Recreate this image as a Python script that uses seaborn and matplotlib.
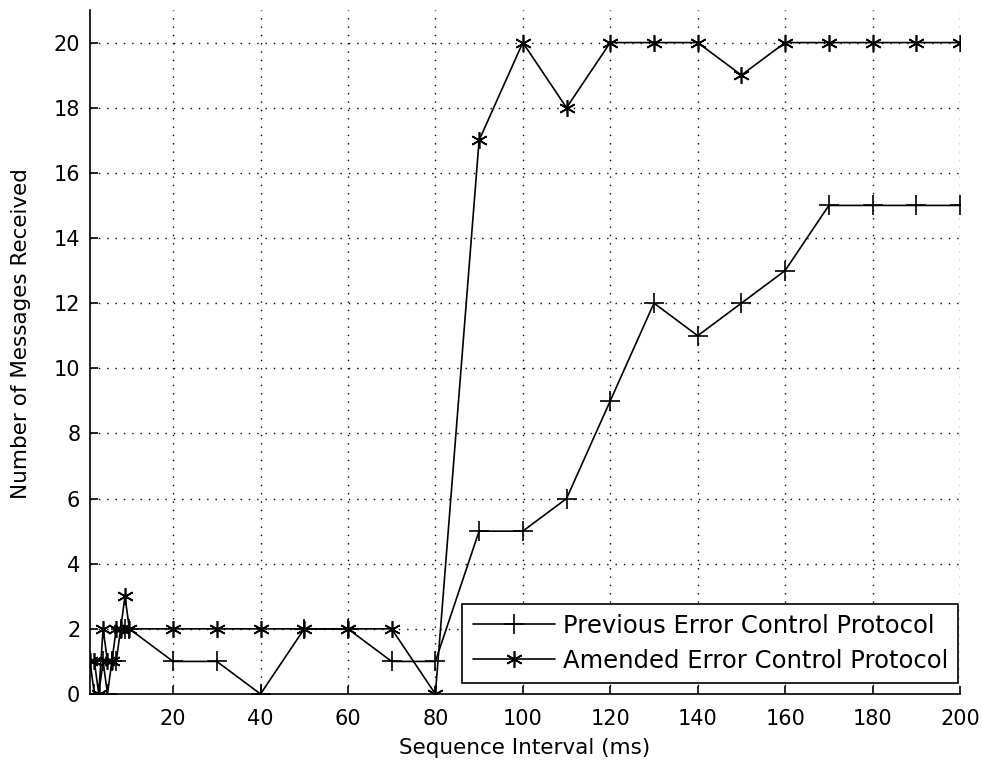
import matplotlib
matplotlib.use("Agg")
import matplotlib.pyplot as plt
import seaborn as sns
import pandas as pd

x_values = [1, 2, 3, 4, 5, 6, 7, 8, 9, 10,
            20, 30, 40, 50, 60, 70, 80, 90, 100, 110,
            120, 130, 140, 150, 160, 170, 180, 190, 200]
previous = [1, 0, 0, 1, 0, 1, 1, 2, 2, 2,
            1, 1, 0, 2, 2, 1, 1, 5, 5, 6,
            9, 12, 11, 12, 13, 15, 15, 15, 15]
amended = [1, 1, 0, 2, 1, 1, 2, 2, 3, 2,
           2, 2, 2, 2, 2, 2, 0, 17, 20, 18,
           20, 20, 20, 19, 20, 20, 20, 20, 20]
series_names = ["Previous Error Control Protocol", "Amended Error Control Protocol"]
x_ticks = [20, 40, 60, 80, 100, 120, 140, 160, 180, 200]
y_ticks = [0, 2, 4, 6, 8, 10, 12, 14, 16, 18, 20]

sns.set_style("white")
plt.rcParams['font.family'] = ['DejaVu Sans']
plt.rcParams['text.color'] = 'black'
plt.rcParams['axes.labelcolor'] = 'black'

df_prev = pd.DataFrame({"x": x_values, "y": previous})
df_amen = pd.DataFrame({"x": x_values, "y": amended})

fig = plt.figure(figsize=(9.82, 7.67), dpi=100)
ax = fig.add_axes([90/982, 1-694/767, (960-90)/982, (694-10)/767])

common = dict(ax=ax, color="black", linewidth=1.2, markeredgewidth=1.2,
              markeredgecolor="black", markerfacecolor="black",
              estimator=None, sort=False)
sns.lineplot(data=df_prev, x="x", y="y", marker="+", markersize=14,
             label=series_names[0], **common)
sns.lineplot(data=df_amen, x="x", y="y", marker=(6, 2, 0), markersize=12,
             label=series_names[1], **common)

ax.set_xlim(1, 200)
ax.set_ylim(0, 21)
ax.set_xticks(x_ticks)
ax.set_yticks(y_ticks)
ax.grid(True, color="black", linestyle=(0, (1, 5)), linewidth=1.0)
ax.tick_params(direction="in", length=6, width=1.2, labelsize=15, colors="black",
               bottom=True, left=True)
ax.tick_params(axis="y", pad=7)
ax.tick_params(axis="x", pad=11)
for s in ["top", "right"]:
    ax.spines[s].set_visible(False)
for s in ["left", "bottom"]:
    ax.spines[s].set_color("black")
    ax.spines[s].set_linewidth(1.2)

ax.set_xlabel("Sequence Interval (ms)", fontsize=15.5, va="center", color="black")
ax.set_ylabel("Number of Messages Received", fontsize=15.5, va="center", color="black")
ax.xaxis.set_label_coords(0.5, (694-748)/684)
ax.yaxis.set_label_coords((21-90)/870, (694-334)/684)

leg = ax.legend(loc="lower right", fontsize=17.5, frameon=True, fancybox=False,
                edgecolor="black", framealpha=1, handlelength=3.4,
                borderpad=0.42, labelspacing=0.45, handletextpad=0.3,
                borderaxespad=0,
                bbox_to_anchor=((958-90)/870, (694-683)/684))
leg.get_frame().set_linewidth(1.2)
for t in leg.get_texts():
    t.set_color("black")

fig.savefig("out.png", dpi=100)
